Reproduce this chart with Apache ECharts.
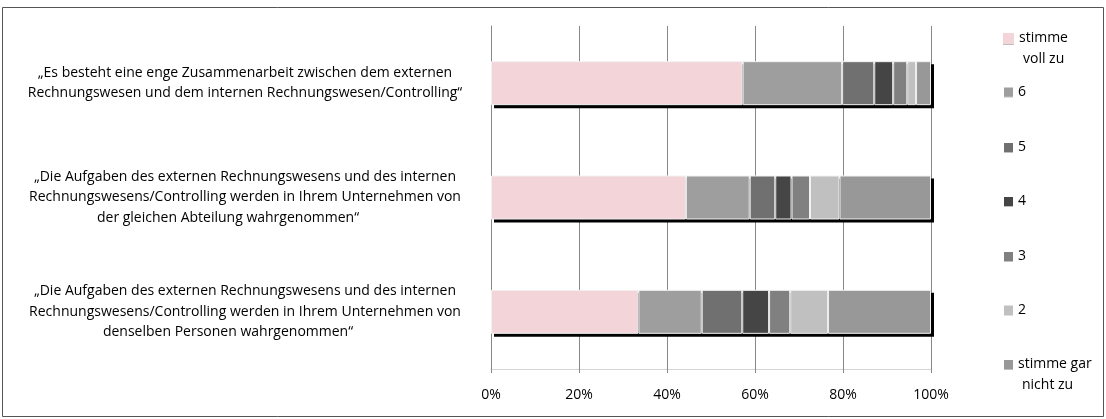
<!DOCTYPE html>
<html>
<head>
<meta charset="utf-8">
<script src="https://cdn.jsdelivr.net/npm/echarts@6/dist/echarts.min.js"></script>
<style>
  html, body { margin: 0; padding: 0; background: #fff; }
  #chart { width: 1106px; height: 419px; }
</style>
</head>
<body>
<div id="chart"></div>
<script>
// Survey statements (category axis, top to bottom)
const categories = [
  '„Es besteht eine enge Zusammenarbeit zwischen dem externen\nRechnungswesen und dem internen Rechnungswesen/Controlling“',
  '„Die Aufgaben des externen Rechnungswesens und des internen\nRechnungswesens/Controlling werden in Ihrem Unternehmen von\nder gleichen Abteilung wahrgenommen“',
  '„Die Aufgaben des externen Rechnungswesens und des internen\nRechnungswesens/Controlling werden in Ihrem Unternehmen von\ndenselben Personen wahrgenommen“'
];

// Answer scale, from full agreement to full disagreement
const scaleNames = ['stimme voll zu', '6', '5', '4', '3', '2', 'stimme gar nicht zu'];

// Share of answers per statement, in percent
const vollZu   = [57.2, 44.3, 33.5];
const stufe6   = [22.6, 14.5, 14.4];
const stufe5   = [7.3, 5.8, 9.2];
const stufe4   = [4.3, 3.7, 6.1];
const stufe3   = [3.2, 4.2, 4.8];
const stufe2   = [2.0, 6.7, 8.6];
const garNicht = [3.4, 20.8, 23.4];

// Axis ticks
const xTicks = [0, 20, 40, 60, 80, 100];

const seriesValues = [vollZu, stufe6, stufe5, stufe4, stufe3, stufe2, garNicht];
const colors = ['#F2D4D9', '#9E9E9E', '#707070', '#454545', '#808080', '#C0C0C0', '#989898'];

const FONT = '"Open Sans", "Noto Sans", sans-serif';
const BAR_W = 44;

// Stack totals per statement, used for the drop shadow behind each bar
const totals = categories.map((_, i) => seriesValues.reduce((s, arr) => s + arr[i], 0));

const shadowSeries = {
  name: 'Schatten',
  type: 'custom',
  z: 1,
  silent: true,
  data: totals.map((t, i) => [t, i]),
  encode: { x: 0, y: 1 },
  renderItem: (params, api) => {
    const start = api.coord([0, api.value(1)]);
    const end = api.coord([api.value(0), api.value(1)]);
    return {
      type: 'rect',
      shape: { x: start[0] + 3, y: start[1] - BAR_W / 2 + 3, width: end[0] - start[0], height: BAR_W },
      style: { fill: '#000' }
    };
  }
};

const barSeries = scaleNames.map((name, i) => ({
  name: name,
  type: 'bar',
  stack: 'total',
  z: 2,
  barWidth: BAR_W,
  data: seriesValues[i],
  itemStyle: { color: colors[i], borderColor: '#f2f2f2', borderWidth: 1 },
  emphasis: { disabled: true }
}));

// One legend block per answer so each entry sits at its own height;
// wrapped entries keep the swatch level with their first line.
const legendRows = [
  { name: 'stimme voll zu', center: 38.5, lines: ['stimme', 'voll zu'], size: 11, left: 1003 },
  { name: '6', center: 92, lines: ['6'], size: 9, left: 1004 },
  { name: '5', center: 147.5, lines: ['5'], size: 9, left: 1004 },
  { name: '4', center: 201.5, lines: ['4'], size: 9, left: 1004 },
  { name: '3', center: 256.5, lines: ['3'], size: 9, left: 1004 },
  { name: '2', center: 310, lines: ['2'], size: 9, left: 1004 },
  { name: 'stimme gar nicht zu', center: 364.5, lines: ['stimme gar', 'nicht zu'], size: 9, left: 1004 }
];
const LH = 21;
const legends = legendRows.map(r => {
  const twoLines = r.lines.length > 1;
  return {
    data: [r.name],
    orient: 'vertical',
    left: r.left,
    top: twoLines ? r.center - 1.5 * LH : r.center - LH / 2,
    padding: 0,
    itemWidth: r.size,
    itemHeight: r.size,
    itemGap: 0,
    icon: 'rect',
    selectedMode: false,
    itemStyle: { borderWidth: 0, shadowColor: 'rgba(0,0,0,0.25)', shadowBlur: 0, shadowOffsetX: 0, shadowOffsetY: 1 },
    formatter: () => twoLines ? (r.lines[0] + '\n{b|' + r.lines[1] + '}') : r.lines[0],
    textStyle: {
      fontFamily: FONT,
      fontSize: 14,
      color: '#000',
      lineHeight: LH,
      padding: twoLines ? [LH, 0, 0, 0] : 0,
      rich: { b: { fontFamily: FONT, fontSize: 14, color: '#000', lineHeight: LH, padding: [0, 0, 0, 4] } }
    }
  };
});

// Three-line statements set their closing line slightly left of centre
const labelFormatter = (value) => {
  const lines = value.split('\n');
  if (lines.length < 3) return value;
  const last = lines.pop();
  return lines.join('\n') + '\n{tail|' + last + '}';
};

const chart = echarts.init(document.getElementById('chart'), null, { renderer: 'canvas' });
chart.setOption({
  animation: false,
  backgroundColor: '#fff',
  textStyle: { fontFamily: FONT },
  grid: { left: 491, right: 175, top: 26, bottom: 50, containLabel: false },
  legend: legends,
  xAxis: {
    type: 'value',
    min: xTicks[0],
    max: xTicks[xTicks.length - 1],
    interval: xTicks[1] - xTicks[0],
    axisLine: { show: true, lineStyle: { color: '#d4d4d4', width: 1 } },
    axisTick: { show: true, length: 4, lineStyle: { color: '#888' } },
    splitLine: { show: true, lineStyle: { color: '#888', width: 1 } },
    axisLabel: { formatter: '{value}%', color: '#000', fontSize: 14, fontFamily: FONT, margin: 19 }
  },
  yAxis: {
    type: 'category',
    inverse: true,
    data: categories,
    axisLine: { show: true, lineStyle: { color: '#888', width: 1 } },
    axisTick: { show: false },
    axisLabel: {
      color: '#000',
      fontSize: 14,
      fontFamily: FONT,
      lineHeight: 20.5,
      align: 'center',
      margin: 246,
      formatter: labelFormatter,
      rich: {
        tail: { color: '#000', fontSize: 14, fontFamily: FONT, lineHeight: 20.5, padding: [0, 34, 0, 0] }
      }
    }
  },
  series: [shadowSeries].concat(barSeries),
  graphic: [{
    type: 'rect',
    silent: true,
    z: -1,
    shape: { x: 2.5, y: 7.5, width: 1101, height: 409 },
    style: { fill: 'none', stroke: '#555', lineWidth: 1 }
  }]
});
</script>
</body>
</html>
